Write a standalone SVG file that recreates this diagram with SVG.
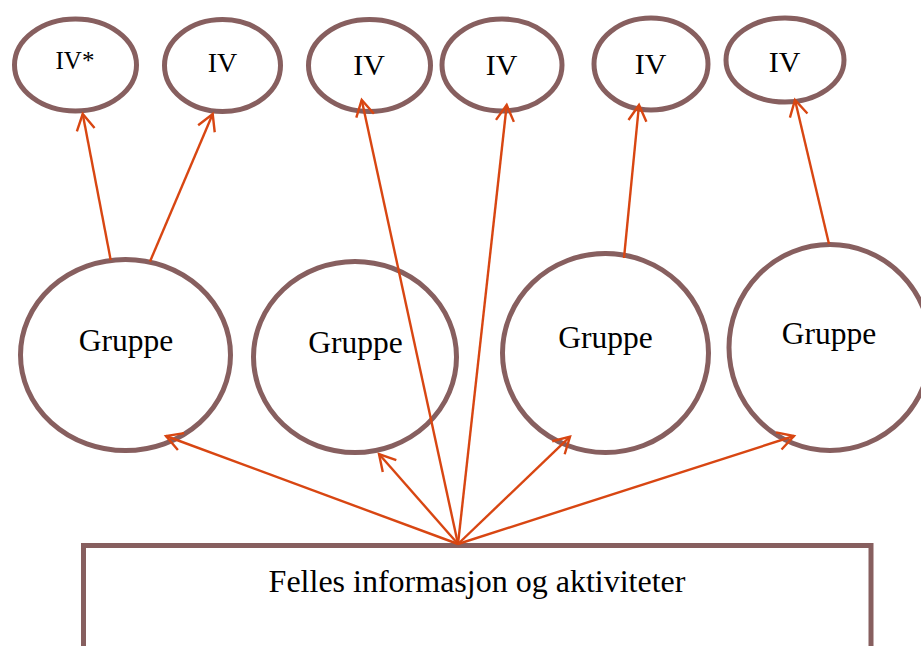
<svg xmlns="http://www.w3.org/2000/svg" width="921" height="646" viewBox="0 0 921 646">
<style>
.node{fill:#fff;stroke:#875F5F;stroke-width:5}
.lbl{font-family:"Liberation Serif","Times New Roman",serif;fill:#000;text-anchor:middle}
.conn line{stroke:#D84612;stroke-width:2.4;fill:none}
</style>
<defs>
<marker id="arr" markerUnits="userSpaceOnUse" viewBox="-20 -12 24 24" refX="0" refY="0" markerWidth="24" markerHeight="24" orient="auto">
<path d="M-16,-9 L0,0 L-16,9" fill="none" stroke="#D84612" stroke-width="2.4"/>
</marker>
</defs>
<rect width="921" height="646" fill="#fff"/>
<g id="iv1"><ellipse class="node" cx="75.5" cy="65" rx="61" ry="46"/><text class="lbl" x="75" y="69" font-size="25">IV*</text></g>
<g id="iv2"><ellipse class="node" cx="222.5" cy="65.5" rx="58" ry="46"/><text class="lbl" x="222.5" y="72" font-size="28">IV</text></g>
<g id="iv3"><ellipse class="node" cx="369.5" cy="65.5" rx="61" ry="46"/><text class="lbl" x="369" y="75" font-size="30">IV</text></g>
<g id="iv4"><ellipse class="node" cx="502" cy="65" rx="60" ry="46"/><text class="lbl" x="501.5" y="75" font-size="30">IV</text></g>
<g id="iv5"><ellipse class="node" cx="651" cy="64" rx="57" ry="46"/><text class="lbl" x="650.5" y="74" font-size="30">IV</text></g>
<g id="iv6"><ellipse class="node" cx="785" cy="60" rx="59" ry="42"/><text class="lbl" x="784.5" y="72" font-size="30">IV</text></g>
<g id="g1"><ellipse class="node" cx="125.5" cy="355" rx="105" ry="95.5"/><text class="lbl" x="126" y="351" font-size="31.5">Gruppe</text></g>
<g id="g2"><ellipse class="node" cx="355" cy="357" rx="101.5" ry="95.5"/><text class="lbl" x="355.5" y="353" font-size="31.5">Gruppe</text></g>
<g id="g3"><ellipse class="node" cx="605.5" cy="353" rx="103" ry="99.5"/><text class="lbl" x="605.5" y="348" font-size="31.5">Gruppe</text></g>
<g id="g4"><ellipse class="node" cx="830" cy="347.5" rx="101" ry="103"/><text class="lbl" x="829" y="344" font-size="31.5">Gruppe</text></g>
<g id="felles"><rect class="node" x="83.5" y="545.5" width="787.5" height="120"/><text class="lbl" x="477" y="592" font-size="32">Felles informasjon og aktiviteter</text></g>
<g id="connectors" class="conn">
<line x1="110.7" y1="260" x2="82.7" y2="114" marker-end="url(#arr)"/>
<line x1="150" y1="261.5" x2="212.7" y2="114" marker-end="url(#arr)"/>
<line x1="624" y1="258" x2="639" y2="105" marker-end="url(#arr)"/>
<line x1="829" y1="244" x2="795" y2="100" marker-end="url(#arr)"/>
<line x1="458" y1="544" x2="166" y2="436" marker-end="url(#arr)"/>
<line x1="458" y1="544" x2="379" y2="454" marker-end="url(#arr)"/>
<line x1="458" y1="544" x2="361.7" y2="100" marker-end="url(#arr)"/>
<line x1="458" y1="544" x2="506.7" y2="105" marker-end="url(#arr)"/>
<line x1="458" y1="544" x2="570" y2="436.7" marker-end="url(#arr)"/>
<line x1="458" y1="544" x2="794" y2="436" marker-end="url(#arr)"/>
</g>
</svg>
